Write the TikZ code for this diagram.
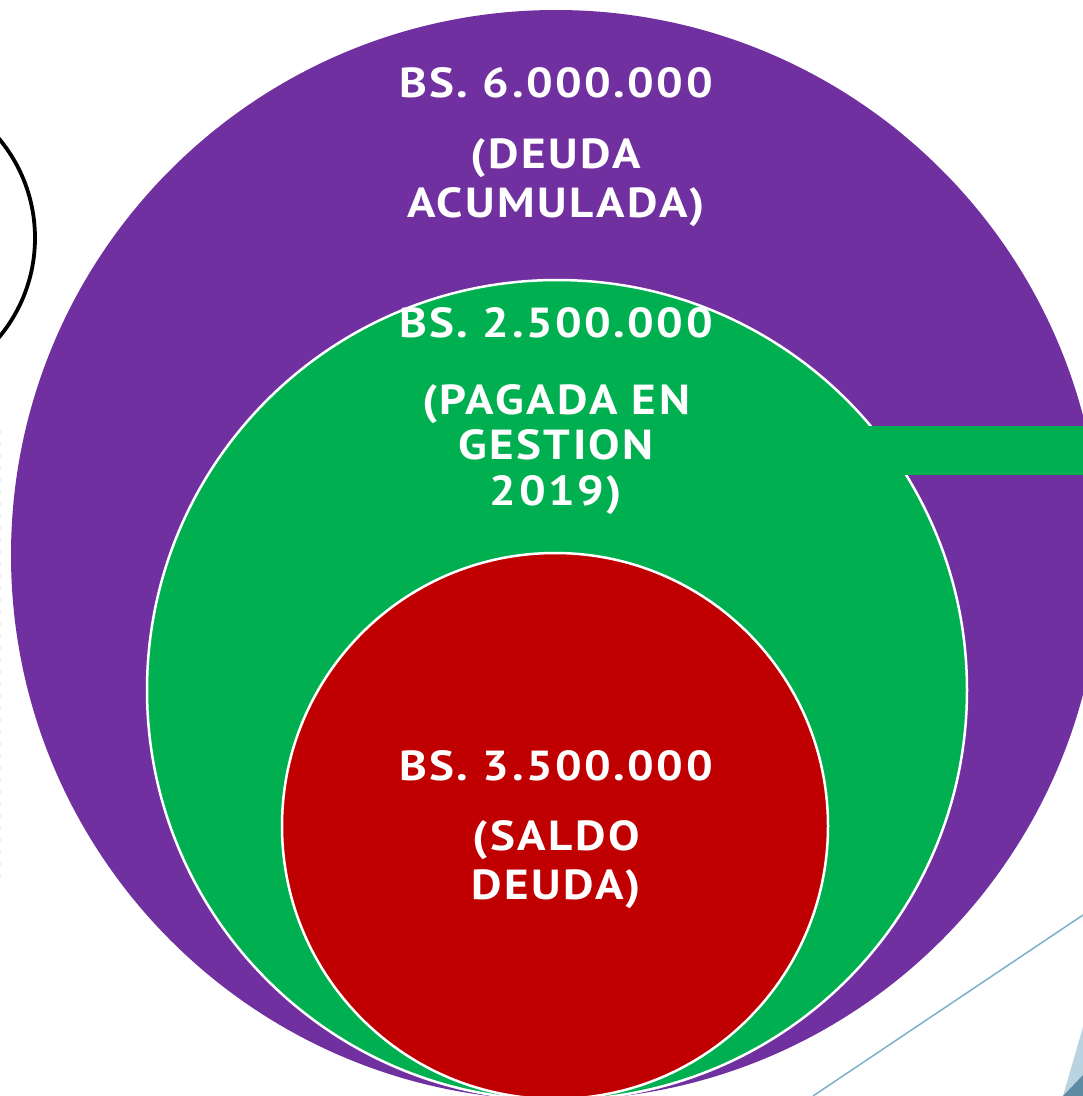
\documentclass[tikz,border=0pt]{standalone}
\usepackage{fontspec}
\setmainfont{PT Sans}
\definecolor{cpurple}{HTML}{7030A0}
\definecolor{cgreen}{HTML}{00B050}
\definecolor{cred}{HTML}{C00000}
\definecolor{cline}{HTML}{7EB0CC}
\definecolor{clight}{HTML}{B9D3E0}
\definecolor{cdark}{HTML}{5E8AA3}
\begin{document}
\begin{tikzpicture}[x=1pt,y=-1pt,
  lbl/.style={text=white, font=\bfseries\fontsize{42}{42}\selectfont\addfontfeatures{FakeStretch=1.12,LetterSpace=6}, inner sep=0pt, anchor=base},
  ring/.style={draw=white, line width=2.5pt}]
\useasboundingbox (0,0) rectangle (1083,1096);
\clip (0,0) rectangle (1083,1096);
\fill[white] (0,0) rectangle (1083,1096);
% circles
\fill[cpurple] (556,555) circle[radius=545];
\filldraw[ring, fill=cgreen] (557,690) circle[radius=410];
\fill[cgreen] (840,426) rectangle (1083,475);
\filldraw[ring, fill=cred] (555,826) circle[radius=273];
% labels
\node[lbl] (p1) at (556,97) {BS. 6.000.000};
\node[lbl] (p2) at (556,168) {(DEUDA};
\node[lbl] (p3) at (556,217) {ACUMULADA)};
\node[lbl] (g1) at (556,337) {BS. 2.500.000};
\node[lbl] (g2) at (556,414) {(PAGADA EN};
\node[lbl] (g3) at (556,459) {GESTION};
\node[lbl] (g4) at (556,505) {2019)};
\node[lbl] (r1) at (556,780) {BS. 3.500.000};
\node[lbl] (r2) at (556,850) {(SALDO};
\node[lbl] (r3) at (556,899) {DEUDA)};
% decorations
\draw[black, line width=3.8pt] (-120,238) circle[radius=155];
\draw[black!7, line width=1pt, dash pattern=on 4pt off 8pt] (0.5,430) -- (0.5,880);
\draw[cline, line width=1.5pt] (813,1096) -- (1083,915);
\fill[clight] (1063,1096) -- (1083,1027) -- (1083,1096) -- cycle;
\fill[cdark] (1063,1096) -- (1083,1075) -- (1083,1096) -- cycle;
\end{tikzpicture}
\end{document}
